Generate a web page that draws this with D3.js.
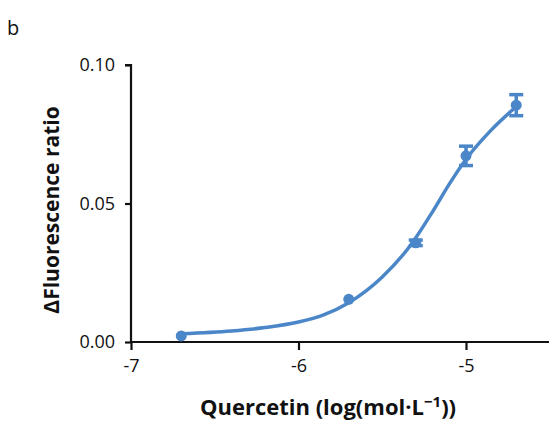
<!DOCTYPE html>
<html>
<head>
<meta charset="utf-8">
<script src="https://cdn.jsdelivr.net/npm/d3@7"></script>
<style>
  body { margin: 0; background: #fff; }
  text { font-family: "Open Sans", sans-serif; }
</style>
</head>
<body>
<div id="chart"></div>
<script>
// measured points (log concentration, response, SEM)
var logConc = [-6.7, -5.7, -5.3, -5.0, -4.7]
var response = [0.0022, 0.0154, 0.0358, 0.0672, 0.0855]
var sem = [0, 0, 0.0010, 0.0035, 0.0038]

// fitted curve
var fitX = [-6.70, -6.40, -6.20, -6.00, -5.85, -5.70, -5.50, -5.33, -5.20, -5.10, -5.00, -4.85, -4.71]
var fitY = [0.0030, 0.0040, 0.0052, 0.0072, 0.0098, 0.0142, 0.0235, 0.0350, 0.0470, 0.0570, 0.0660, 0.0765, 0.0845]

var xTicks = [-7, -6, -5]
var yTicks = [0, 0.05, 0.10]

function init() {
    var w = 549
    var h = 428
    var blue = "#4a86c8"

    var svg = d3.select("#chart")
                .append("svg")
                .attr("width", w)
                .attr("height", h)

    var x = d3.scaleLinear().domain([-7, -4.5]).range([131, 549.75])
    var y = d3.scaleLinear().domain([0, 0.1]).range([342, 65])

    var xAxis = svg.append("g")
        .attr("transform", `translate(0,${y(0)})`)
        .call(d3.axisBottom(x).tickValues(xTicks).tickFormat(d => String(d)).tickSize(8).tickPadding(9))
    var yAxis = svg.append("g")
        .attr("transform", `translate(${x(-7)},0)`)
        .call(d3.axisLeft(y).tickValues(yTicks).tickFormat(d3.format(".2f")).tickSize(6).tickPadding(10))

    ;[xAxis, yAxis].forEach(g => {
        g.select(".domain").attr("stroke", "#111").attr("stroke-width", 2.2)
        g.selectAll(".tick line").attr("stroke", "#111").attr("stroke-width", 2.2)
        g.selectAll(".tick text")
            .attr("fill", "#111")
            .style("font-size", "18px")
            .style("font-family", "Open Sans")
    })
    xAxis.select(".domain").attr("d", `M${x(-7)},0H${w}`)
    yAxis.select(".domain").attr("d", `M0,${y(0)}V${y(0.1)}H-6`)

    // fitted curve
    var line = d3.line()
        .x(d => x(d[0]))
        .y(d => y(d[1]))
        .curve(d3.curveMonotoneX)
    svg.append("path")
        .datum(d3.zip(fitX, fitY))
        .attr("d", line)
        .attr("fill", "none")
        .attr("stroke", blue)
        .attr("stroke-width", 3.5)
        .attr("stroke-linecap", "round")

    var pts = logConc.map((d, i) => ({x: d, y: response[i], e: sem[i]}))

    // error bars
    var eb = svg.selectAll(".eb")
        .data(pts.filter(d => d.e > 0))
        .enter()
        .append("g")
        .attr("stroke", blue)
        .attr("stroke-width", 3.5)
    eb.append("line")
        .attr("x1", d => x(d.x)).attr("x2", d => x(d.x))
        .attr("y1", d => y(d.y - d.e)).attr("y2", d => y(d.y + d.e))
    eb.append("line")
        .attr("x1", d => x(d.x) - 7).attr("x2", d => x(d.x) + 7)
        .attr("y1", d => y(d.y - d.e)).attr("y2", d => y(d.y - d.e))
    eb.append("line")
        .attr("x1", d => x(d.x) - 7).attr("x2", d => x(d.x) + 7)
        .attr("y1", d => y(d.y + d.e)).attr("y2", d => y(d.y + d.e))

    svg.selectAll("circle")
        .data(pts)
        .enter()
        .append("circle")
        .attr("cx", d => x(d.x))
        .attr("cy", d => y(d.y))
        .attr("r", 5.5)
        .attr("fill", blue)

    // axis titles
    var xt = svg.append("text")
        .attr("x", 328)
        .attr("y", 415)
        .attr("text-anchor", "middle")
        .style("font-size", "22px")
        .style("font-weight", "bold")
        .attr("fill", "#111")
    xt.append("tspan").text("Quercetin (log(mol\u00b7L")
    xt.append("tspan").text("\u22121").attr("dy", -8).style("font-size", "15px")
    xt.append("tspan").text("))").attr("dy", 8)

    svg.append("text")
        .attr("transform", "translate(59,210) rotate(-90)")
        .attr("text-anchor", "middle")
        .style("font-size", "21px")
        .style("font-weight", "bold")
        .attr("fill", "#111")
        .text("\u0394Fluorescence ratio")

    svg.append("text")
        .attr("x", 7)
        .attr("y", 35)
        .style("font-size", "20px")
        .attr("fill", "#111")
        .text("b")
}

window.onload = init;
</script>
</body>
</html>
